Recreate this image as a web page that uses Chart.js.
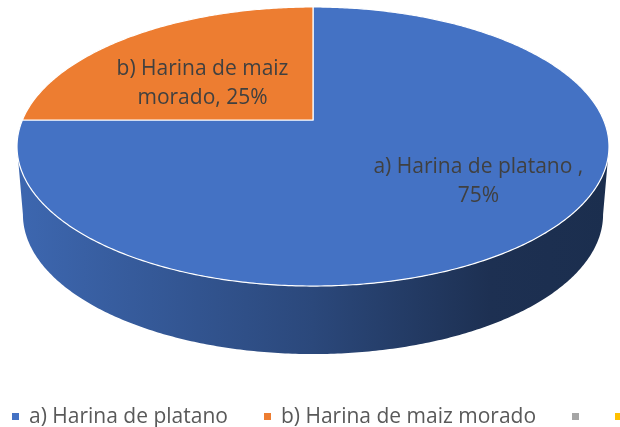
<!DOCTYPE html>
<html>
<head>
<meta charset="utf-8">
<script src="https://cdn.jsdelivr.net/npm/chart.js@4.4.1/dist/chart.umd.min.js"></script>
<style>
  html, body { margin: 0; padding: 0; background: #fff; }
  #wrap { position: relative; width: 620px; height: 427px; overflow: hidden; }
  #legend {
    position: absolute; left: 12px; top: 402px; white-space: nowrap;
    font: 21px "Open Sans", sans-serif; color: #595959; line-height: 26px;
  }
  #legend span.item { display: inline-block; margin-right: 36px; }
  #legend span.box { display: inline-block; width: 7px; height: 7px; margin-right: 10px; vertical-align: 3px; }
  #legend span.item.empty span.box { margin-right: 0; }
</style>
</head>
<body>
<div id="wrap">
  <canvas id="pie-chart" width="620" height="427"></canvas>
  <div id="legend"></div>
</div>
<script>
// datos del grafico
const categories = ["a) Harina de platano ", "b) Harina de maiz morado", "", ""];
const shares = [75, 25, 0, 0];
const sliceColors = ["#4472C4", "#ED7D31", "#A5A5A5", "#FFC000"];

// geometria del pastel 3D (perspectiva)
const CX = 313, CY = 120;       // punto donde se juntan las porciones
const RX = 290.6, RY = 134.5;   // semiejes de la cara superior
const TILT = 0.19;              // perspectiva
const DEPTH = 68;               // alto de la pared
const BOTTOM_SHRINK = 0.98;

function facePoint(theta, drop) {
  const u = Math.cos(theta), v = Math.sin(theta);
  const w = 1 - TILT * v;
  const k = drop ? BOTTOM_SHRINK : 1;
  return [CX + RX * k * u / w, CY + RY * v / w + drop];
}

function shade(hex, f) {
  const n = parseInt(hex.slice(1), 16);
  const r = Math.round(((n >> 16) & 255) * f);
  const g = Math.round(((n >> 8) & 255) * f);
  const b = Math.round((n & 255) * f);
  return `rgb(${r},${g},${b})`;
}

function wrapText(ctx, text, maxWidth) {
  const words = text.split(" ");
  const lines = [];
  let line = "";
  words.forEach((w) => {
    const test = line ? line + " " + w : w;
    if (line && ctx.measureText(test).width > maxWidth) {
      lines.push(line);
      line = w;
    } else {
      line = test;
    }
  });
  if (line) lines.push(line);
  return lines;
}

// plugin que dibuja las porciones como pastel 3D
const pie3d = {
  id: "pie3d",
  beforeDatasetDraw(chart, args) {
    const ctx = chart.ctx;
    const arcs = args.meta.data;
    const ds = chart.data.datasets[args.index];
    const total = ds.data.reduce((a, b) => a + b, 0);
    const tR = Math.asin(TILT), tL = Math.PI - Math.asin(TILT);
    const step = 0.01;
    const left = CX - RX / Math.sqrt(1 - TILT * TILT);
    const right = CX + RX / Math.sqrt(1 - TILT * TILT);

    ctx.save();
    // pared frontal
    arcs.forEach((arc, i) => {
      const { startAngle, endAngle } = arc.getProps(["startAngle", "endAngle"]);
      [0, 2 * Math.PI].forEach((off) => {
        const a = Math.max(startAngle, tR + off);
        const b = Math.min(endAngle, tL + off);
        if (b <= a) return;
        const color = ds.backgroundColor[i];
        const grad = ctx.createLinearGradient(left, 0, right, 0);
        grad.addColorStop(0, shade(color, 0.9));
        grad.addColorStop(0.5, shade(color, 0.63));
        grad.addColorStop(0.8, shade(color, 0.42));
        grad.addColorStop(1, shade(color, 0.4));
        ctx.beginPath();
        for (let t = a; t < b; t += step) ctx.lineTo(...facePoint(t, 0));
        ctx.lineTo(...facePoint(b, 0));
        for (let t = b; t > a; t -= step) ctx.lineTo(...facePoint(t, DEPTH));
        ctx.lineTo(...facePoint(a, DEPTH));
        ctx.closePath();
        ctx.fillStyle = grad;
        ctx.fill();
      });
    });

    // cara superior
    arcs.forEach((arc, i) => {
      const { startAngle, endAngle } = arc.getProps(["startAngle", "endAngle"]);
      if (endAngle - startAngle <= 0) return;
      ctx.beginPath();
      ctx.moveTo(CX, CY);
      for (let t = startAngle; t < endAngle; t += step) ctx.lineTo(...facePoint(t, 0));
      ctx.lineTo(...facePoint(endAngle, 0));
      ctx.closePath();
      ctx.fillStyle = ds.backgroundColor[i];
      ctx.fill();
      ctx.lineWidth = 1.2;
      ctx.strokeStyle = "#ffffff";
      ctx.stroke();
    });

    // etiquetas de datos
    ctx.font = '21px "Open Sans", sans-serif';
    ctx.fillStyle = "#404040";
    ctx.textAlign = "center";
    ctx.textBaseline = "middle";
    arcs.forEach((arc, i) => {
      const v = ds.data[i];
      if (!v) return;
      const { startAngle, endAngle } = arc.getProps(["startAngle", "endAngle"]);
      const mid = (startAngle + endAngle) / 2;
      const reach = 0.5 + 0.66 * v / total;
      const x = CX + 235 * reach * Math.cos(mid);
      const y = CY + 83 * reach * Math.sin(mid) + 3;
      const pct = Math.round(v / total * 100);
      const lines = wrapText(ctx, `${chart.data.labels[i]}, ${pct}%`, 220);
      const lh = 29;
      lines.forEach((ln, j) => {
        ctx.fillText(ln, x, y + (j - (lines.length - 1) / 2) * lh);
      });
    });
    ctx.restore();
    return false;
  },
};

const contenedorPie = document.querySelector("#pie-chart").getContext("2d");

const pieChart = new Chart(contenedorPie, {
  type: "pie",
  data: {
    labels: categories,
    datasets: [
      {
        data: shares,
        backgroundColor: sliceColors,
        borderColor: "#ffffff",
        borderWidth: 1,
      },
    ],
  },
  options: {
    responsive: false,
    animation: false,
    plugins: {
      legend: { display: false },
      tooltip: { enabled: false },
    },
  },
  plugins: [pie3d],
});

// leyenda en HTML (como Excel, se corta al borde)
const legendItems = Chart.overrides.pie.plugins.legend.labels.generateLabels(pieChart);
const legendBox = document.querySelector("#legend");
legendItems.forEach((item) => {
  const span = document.createElement("span");
  span.className = "item" + (item.text.trim() ? "" : " empty");
  const box = document.createElement("span");
  box.className = "box";
  box.style.background = item.fillStyle;
  span.appendChild(box);
  span.appendChild(document.createTextNode(item.text.trim()));
  legendBox.appendChild(span);
});
</script>
</body>
</html>
